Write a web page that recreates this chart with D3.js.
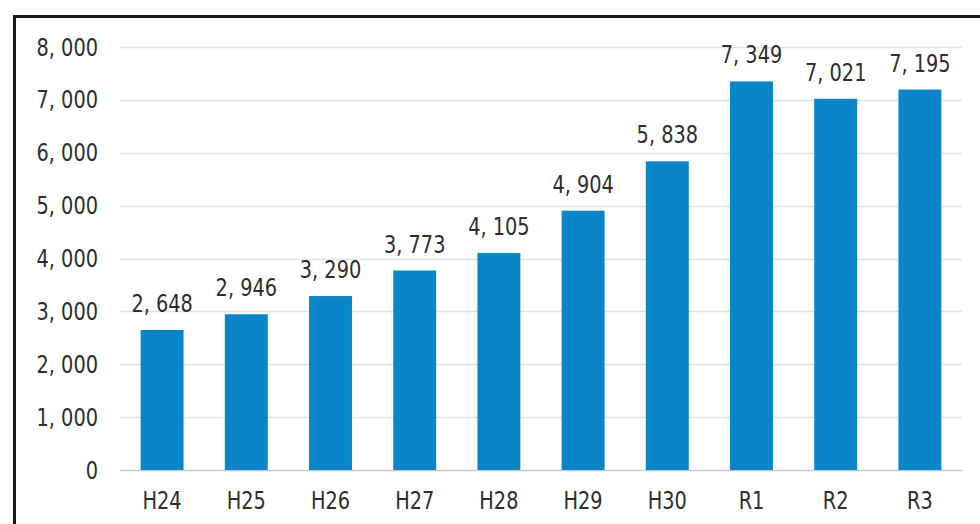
<!DOCTYPE html>
<html>
<head>
<meta charset="utf-8">
<script src="https://cdn.jsdelivr.net/npm/d3@7"></script>
<style>
  body { margin: 0; background: #fff; }
  svg text { font-family: "DejaVu Sans Condensed", "Liberation Sans Narrow", sans-serif; fill: #2e2e2e; }
</style>
</head>
<body>
<div class="vis-holder"></div>
<script>
// fiscal years (Heisei / Reiwa)
var years = ["H24", "H25", "H26", "H27", "H28", "H29", "H30", "R1", "R2", "R3"];
// counts per year
var counts = [2648, 2946, 3290, 3773, 4105, 4904, 5838, 7349, 7021, 7195];
// y axis ticks
var yTicks = [0, 1000, 2000, 3000, 4000, 5000, 6000, 7000, 8000];

var width = 980;
var height = 524;
var margin = { top: 47, bottom: 54, left: 120, right: 18 };
var fontSize = "25px";
var squeeze = "scale(0.86,1)";

var mydata = years.map(function(y, i) { return { year: y, n: counts[i] }; });

// number with a spaced comma, like the original
var fmt = function(v) { return d3.format(",")(v).replace(",", ", "); };

var svg = d3.select(".vis-holder")
            .append("svg")
            .attr("width", width)
            .attr("height", height);

// frame (right and bottom edges are cut off in the original)
svg.append("path")
   .attr("d", "M14.5," + height + "V16.5H" + width)
   .attr("fill", "none")
   .attr("stroke", "#1a1a1a")
   .attr("stroke-width", 3);

var xScale = d3.scaleBand()
               .domain(years)
               .range([margin.left, width - margin.right])
               .paddingInner(0.49)
               .paddingOuter(0.245);

var yScale = d3.scaleLinear()
               .domain([0, 8000])
               .range([height - margin.bottom, margin.top]);

// grid lines
svg.append("g")
   .selectAll("line")
   .data(yTicks)
   .enter()
   .append("line")
   .attr("x1", margin.left)
   .attr("x2", width - margin.right)
   .attr("y1", function(d) { return Math.round(yScale(d)) + 0.5; })
   .attr("y2", function(d) { return Math.round(yScale(d)) + 0.5; })
   .attr("stroke", function(d) { return d === 0 ? "#c8c8c8" : "#e2e2e2"; })
   .attr("stroke-width", 1.5);

// y axis labels
var yAxis = svg.append("g")
               .attr("transform", "translate(" + (margin.left - 22) + ",0)")
               .call(d3.axisLeft(yScale).tickValues(yTicks).tickSize(0).tickFormat(fmt));
yAxis.select(".domain").remove();
yAxis.selectAll("text")
     .attr("x", 0)
     .attr("transform", squeeze)
     .style("font-size", fontSize)
     .attr("fill", "#2e2e2e");

// x axis labels
var xAxis = svg.append("g")
               .attr("transform", "translate(0," + (height - margin.bottom) + ")")
               .call(d3.axisBottom(xScale).tickSize(0));
xAxis.select(".domain").remove();
xAxis.selectAll("text")
     .attr("y", 21)
     .attr("transform", squeeze)
     .style("font-size", fontSize)
     .attr("fill", "#2e2e2e");

// bars
svg.append("g")
   .selectAll("rect")
   .data(mydata)
   .enter()
   .append("rect")
   .attr("x", function(d) { return xScale(d.year); })
   .attr("y", function(d) { return yScale(d.n); })
   .attr("width", xScale.bandwidth())
   .attr("height", function(d) { return height - margin.bottom - yScale(d.n); })
   .attr("fill", "#0a86c8");

// value labels
svg.append("g")
   .selectAll("text")
   .data(mydata)
   .enter()
   .append("text")
   .attr("text-anchor", "middle")
   .attr("transform", function(d) {
     return "translate(" + (xScale(d.year) + xScale.bandwidth() / 2) + "," + (yScale(d.n) - 18) + ")" + squeeze;
   })
   .style("font-size", fontSize)
   .text(function(d) { return fmt(d.n); });
</script>
</body>
</html>
